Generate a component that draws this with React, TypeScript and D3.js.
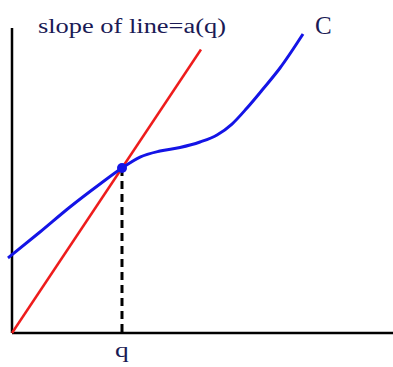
import React from 'react';
import * as d3 from 'd3';

// curve C (abstract units, origin at the axes corner)
const curveX = [-0.105, 0.735, 1.522, 2.31, 2.887, 3.36, 3.885, 4.409, 4.934, 5.381, 5.774, 6.168, 6.588, 7.034, 7.638];
const curveY = [2.459, 3.311, 4.131, 4.885, 5.41, 5.77, 5.967, 6.082, 6.262, 6.492, 6.852, 7.377, 8.0, 8.689, 9.803];

// the point q and the ray from the origin through it
const q = 2.887;
const qValue = 5.41;
const rayEndX = 4.96;

const axisMax = 10;
const titleLabel = 'slope of line=a(q)';
const curveLabel = 'C';
const qLabel = 'q';

const width = 393;
const height = 367;
const textColor = '#1a1a55';
const serif = "'Liberation Serif', 'Times New Roman', serif";

const App = () => {
  const x = d3.scaleLinear().domain([0, axisMax]).range([12, 393]);
  const y = d3.scaleLinear().domain([0, axisMax]).range([333, 28]);

  const pts: [number, number][] = curveX.map((v, i) => [v, curveY[i]]);
  const curvePath = d3.line<[number, number]>()
    .x(d => x(d[0]))
    .y(d => y(d[1]))
    .curve(d3.curveMonotoneX)(pts);

  const slope = qValue / q;

  return (
    <div style={{position: 'absolute', left: 0, top: 0}}>
      <svg xmlns="http://www.w3.org/2000/svg" width={width} height={height}
        style={{display: 'block', background: '#fff'}}>
        {/* axes */}
        <line x1={x(0)} x2={x(0)} y1={y(0)} y2={y(axisMax)} stroke="#000" strokeWidth="2.5" />
        <line x1={x(0)} x2={x(axisMax)} y1={y(0)} y2={y(0)} stroke="#000" strokeWidth="2.5" />

        {/* dashed drop from the point */}
        <line x1={x(q)} x2={x(q)} y1={y(qValue)} y2={y(0)}
          stroke="#000" strokeWidth="3" strokeDasharray="8,5" />

        {/* ray with slope a(q) */}
        <line x1={x(0)} y1={y(0)} x2={x(rayEndX)} y2={y(rayEndX * slope)}
          stroke="#ee1c1c" strokeWidth="2.5" />

        <path d={curvePath || ''} fill="none" stroke="#1414e6" strokeWidth="3" />

        <circle cx={x(q)} cy={y(qValue)} r="5" fill="#1414e6" />

        <text x="38" y="33" fontFamily={serif} fontSize="20"
          fill={textColor} textLength="188" lengthAdjust="spacingAndGlyphs">
          {titleLabel}
        </text>
        <text x="315" y="34" fontFamily={serif} fontSize="25" fill={textColor}>
          {curveLabel}
        </text>
        <text x={x(q)} y="357" fontFamily={serif} fontSize="22"
          fill={textColor} textAnchor="middle" transform={`translate(${x(q)},0) scale(1.25,1) translate(${-x(q)},0)`}>
          {qLabel}
        </text>
      </svg>
    </div>
  );
};

export default App;
